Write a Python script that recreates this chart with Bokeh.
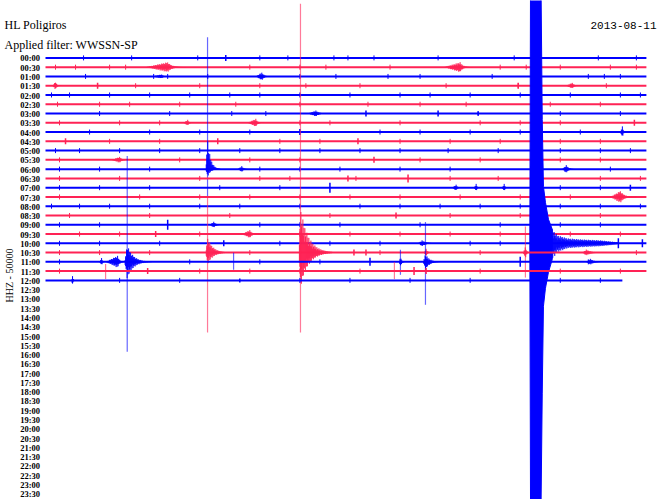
import math
from bokeh.plotting import figure
from bokeh.models import Range1d
from bokeh.core.properties import value
from bokeh.embed import file_html
from bokeh.resources import INLINE

# ---------------- data ----------------
station = "HL Poligiros"
filter_label = "Applied filter: WWSSN-SP"
date_label = "2013-08-11"
channel_label = "HHZ - 50000"

row_labels = ["00:00", "00:30", "01:00", "01:30", "02:00", "02:30", "03:00", "03:30",
              "04:00", "04:30", "05:00", "05:30", "06:00", "06:30", "07:00", "07:30",
              "08:00", "08:30", "09:00", "09:30", "10:00", "10:30", "11:00", "11:30",
              "12:00", "12:30", "13:00", "13:30", "14:00", "14:30", "15:00", "15:30",
              "16:00", "16:30", "17:00", "17:30", "18:00", "18:30", "19:00", "19:30",
              "20:00", "20:30", "21:00", "21:30", "22:00", "22:30", "23:00", "23:30"]

# minutes within each 30-min line
trace_start = [0.0] * 25
trace_end = [30.0] * 24 + [28.8]

# background noise ticks (minutes) per recorded line
noise_ticks = [
    [1.9, 4.3, 7.6, 10.7, 12.1, 14.4, 15.1, 16.4, 19.6, 23.4, 27.6, 29.5],
    [0.5, 1.5, 3.2, 4.0, 10.2, 12.7, 14.0, 17.2, 22.7, 24.0, 25.7, 28.2, 29.5],
    [2.0, 5.4, 6.1, 8.1, 12.7, 14.5, 17.1, 18.7, 22.3, 27.1, 27.9, 28.7],
    [2.6, 4.5, 7.7, 10.7, 13.0, 15.7, 20.0, 23.6, 28.0],
    [0.3, 1.2, 3.2, 5.2, 7.2, 9.2, 10.7, 12.7, 15.2, 17.7, 19.2, 21.2, 23.7, 26.2, 28.7, 29.7],
    [0.6, 2.7, 4.2, 6.7, 9.5, 12.7, 16.1, 18.7, 21.0, 25.2, 27.7],
    [2.7, 6.2, 9.3, 11.0, 21.6, 25.7, 28.7],
    [0.7, 3.7, 5.7, 12.7, 14.2, 17.7, 21.7, 23.7, 25.7],
    [2.2, 5.2, 7.7, 10.2, 16.7, 18.7, 21.2, 23.7, 26.7],
    [3.2, 5.7, 11.7, 13.7, 17.7, 20.2, 22.7, 25.7, 27.7],
    [0.5, 1.7, 3.7, 5.7, 7.7, 9.7, 11.7, 13.7, 15.7, 17.7, 20.1, 22.6, 25.7, 27.7, 29.2],
    [0.7, 6.7, 10.2, 12.7, 18.7, 21.7, 25.7, 27.7],
    [0.7, 2.7, 5.2, 10.7, 12.7, 14.7, 17.7, 20.2, 28.2],
    [0.7, 3.7, 7.7, 10.7, 12.2, 15.5, 20.2, 22.6, 27.7, 29.7],
    [0.7, 2.7, 5.2, 8.7, 11.7, 25.7, 27.7],
    [0.7, 4.7, 7.7, 10.2, 12.7, 15.2, 17.7, 20.7, 23.7, 26.2],
    [0.3, 1.7, 3.2, 5.2, 7.7, 9.7, 12.7, 15.7, 17.7, 19.7, 21.7, 23.7, 25.7, 27.7, 29.7],
    [1.2, 5.2, 9.2, 14.2, 20.2, 23.7, 27.7],
    [0.7, 2.7, 10.7, 12.7, 14.7, 18.7, 22.7, 25.7, 27.7],
    [1.7, 3.7, 7.7, 12.7, 15.2, 17.7, 20.2, 22.7, 26.2, 28.7],
    [0.7, 2.7, 5.7, 11.7, 14.2, 16.7, 21.2, 22.7],
    [0.7, 2.7, 5.2, 10.2, 16.7, 21.7, 29.5],
    [0.7, 7.2, 10.7, 13.7, 27.1],
    [0.7, 7.7, 10.2, 12.7, 15.7, 21.7, 25.7, 28.7],
    [3.7, 6.7, 12.7, 15.2, 18.2, 21.2, 25.7, 27.7],
]

# medium single wiggles: line, minute, amplitude (counts)
wig_row = [0, 3, 3, 6, 6, 6, 7, 8, 9, 9, 9, 11, 13, 13, 14, 14, 17, 18, 19, 20, 20, 20,
           21, 21, 22, 22, 23, 23, 23, 24]
wig_t = [9.0, 2.6, 23.6, 16.0, 19.6, 21.6, 29.4, 12.7, 1.0, 8.6, 15.6, 16.4, 15.1, 18.1,
         14.2, 29.2, 17.5, 6.1, 5.5, 8.9, 28.6, 29.8, 15.4, 16.0, 16.2, 23.7, 5.1, 18.4,
         19.0, 9.7]
wig_amp = [3, 3, 3, 3, 3, 2, 3, 3, 3, 3, 3, 3, 3, 4, 5, 3, 3, 5, 3, 3, 5, 4, 3, 3, 4, 5,
           3, 4, 3, 2]

# wave trains: line, onset, peak, end (minutes), peak amplitude up / down (counts)
burst_row = [1, 1, 2, 2, 3, 3, 6, 7, 7, 8, 11, 12, 12, 12, 14, 14, 14, 15, 18, 19, 20,
             21, 21, 21, 21, 21, 22, 22, 22, 22, 22, 22, 24]
burst_t0 = [5.0, 19.9, 10.5, 5.3, 0.35, 26.0, 13.1, 6.9, 10.1, 28.7, 3.3, 8.0, 9.6, 25.8,
            20.3, 21.4, 22.8, 28.2, 8.2, 9.8, 18.6, 8.0, 12.65, 18.9, 23.85, 26.8, 2.7,
            3.0, 3.95, 17.65, 18.85, 27.0, 1.3]
burst_tp = [6.1, 20.7, 10.8, 5.8, 0.5, 26.3, 13.5, 7.1, 10.5, 28.8, 3.7, 8.09, 9.8, 26.0,
            20.5, 21.5, 22.9, 28.7, 8.4, 10.2, 18.8, 8.09, 12.73, 19.0, 23.96, 27.0, 2.8,
            3.6, 4.08, 17.72, 18.97, 27.2, 1.35]
burst_t1 = [7.0, 21.3, 11.3, 6.2, 0.8, 26.7, 14.2, 7.4, 10.9, 29.0, 4.2, 8.7, 10.2, 26.5,
            20.8, 21.7, 23.1, 29.5, 8.9, 10.7, 19.7, 9.2, 14.3, 19.3, 24.2, 28.0, 3.0,
            4.0, 5.3, 18.0, 19.8, 28.0, 1.5]
burst_up = [5, 5, 4, 2, 4, 3, 3, 3, 4, 6, 3, 31, 3, 4, 3, 4, 4, 6, 3, 4, 3, 15, 45, 4, 6,
            3, 4, 6, 17, 5, 8, 3, 5]
burst_down = [5, 5, 4, 2, 4, 3, 3, 3, 4, 6, 3, 8, 3, 4, 3, 4, 4, 6, 3, 4, 3, 12, 35, 4, 6,
              3, 4, 6, 17, 5, 8, 3, 5]

# largest single swings (thin peaks): line, minute, up / down (counts)
peak_row = [12, 21, 21, 22, 22, 22, 21, 22, 23, 23]
peak_t = [8.09, 8.09, 12.73, 4.08, 17.72, 18.97, 23.96, 9.39, 3.0, 17.42]
peak_up = [132, 55, 249, 106, 12, 40, 26, 9, 7, 9]
peak_down = [29, 80, 80, 90, 13, 43, 25, 8, 8, 8]

# the large earthquake on the 10:00 line (envelope)
quake_row = 20
quake_t = [24.18, 24.22, 24.72, 24.80, 24.86, 24.96, 25.11, 25.30, 25.56, 26.06, 26.70, 27.70, 28.6]
quake_up = [0, 300, 300, 124, 57, 41, 24, 14, 8, 5, 4, 3, 1]
quake_down = [0, 300, 300, 150, 63, 45, 29, 16, 9, 5, 4, 3, 1]

# ---------------- layout ----------------
W, H = 660, 499
X0_PX, PX_PER_MIN = 45.0, 20.03
Y0_PX, PX_PER_ROW = 57.4, 9.27
COUNTS_PER_ROW = 9.28
TEXTURE = [1.0, 0.55, 0.85, 0.4, 0.95, 0.65, 0.75, 0.5]


def fx(px):
    return (px - X0_PX) / PX_PER_MIN


def fy(py):
    return (py - Y0_PX) / PX_PER_ROW


def a(c):
    return c / COUNTS_PER_ROW


def interp(t, ts, vs):
    for j in range(len(ts) - 1):
        if ts[j] <= t <= ts[j + 1]:
            f = (t - ts[j]) / (ts[j + 1] - ts[j])
            return vs[j] + f * (vs[j + 1] - vs[j])
    return 0.0


BLUE = "#0000FF"
RED = "#FF2255"
colors = [BLUE, RED]

p = figure(width=W, height=H, x_range=Range1d(fx(0), fx(W)), y_range=Range1d(fy(H), fy(0)),
           output_backend="svg", toolbar_location=None, min_border=0,
           x_axis_type=None, y_axis_type=None)
p.grid.visible = False
p.outline_line_color = None
p.background_fill_color = "white"
p.border_fill_color = "white"

SERIF = value("Liberation Serif")
STEP = 1.0 / PX_PER_MIN

for r in range(len(trace_end)):
    c = colors[r % 2]
    p.line([trace_start[r], trace_end[r]], [r, r], line_color=c, line_width=2)

    ts = noise_ticks[r]
    p.segment(x0=ts, y0=[r - a(2.5)] * len(ts), x1=ts, y1=[r + a(2.5)] * len(ts),
              line_color=c, line_width=1)

    wi = [i for i in range(len(wig_row)) if wig_row[i] == r]
    if wi:
        p.segment(x0=[wig_t[i] for i in wi], y0=[r - a(wig_amp[i]) for i in wi],
                  x1=[wig_t[i] for i in wi], y1=[r + a(wig_amp[i]) for i in wi],
                  line_color=c, line_width=1.5)

    sx, sy0, sy1 = [], [], []
    for i in range(len(burst_row)):
        if burst_row[i] != r:
            continue
        t0, tp, t1 = burst_t0[i], burst_tp[i], burst_t1[i]
        n = max(2, int(round((t1 - t0) / STEP * 2)))
        for k in range(n + 1):
            t = t0 + (t1 - t0) * k / n
            if t <= tp:
                e = (t - t0) / max(tp - t0, 1e-6)
            else:
                e = math.exp(-4 * (t - tp) / max(t1 - tp, 1e-6))
            sx.append(t)
            sy0.append(r - a(burst_up[i] * e * TEXTURE[k % 8]))
            sy1.append(r + a(burst_down[i] * e * TEXTURE[(k + 3) % 8]))
    if r == quake_row:
        # saturated part as a solid mass
        solid = [j for j in range(len(quake_t)) if quake_t[j] <= 25.30]
        qt = [quake_t[j] for j in solid]
        qx = qt + qt[::-1]
        qy = [r - a(quake_up[j]) for j in solid] + [r + a(quake_down[j]) for j in solid][::-1]
        p.patch(qx, qy, fill_color=c, line_color=c, line_width=1)
        # coda as oscillating swings
        n = int(round((quake_t[-1] - 25.30) / STEP * 2))
        for k in range(n + 1):
            t = 25.30 + (quake_t[-1] - 25.30) * k / n
            sx.append(t)
            sy0.append(r - a(interp(t, quake_t, quake_up) * TEXTURE[k % 8]))
            sy1.append(r + a(interp(t, quake_t, quake_down) * TEXTURE[(k + 3) % 8]))
    if sx:
        p.segment(x0=sx, y0=sy0, x1=sx, y1=sy1, line_color=c, line_width=1)

    pi_ = [i for i in range(len(peak_row)) if peak_row[i] == r]
    if pi_:
        p.segment(x0=[peak_t[i] for i in pi_], y0=[r - a(peak_up[i]) for i in pi_],
                  x1=[peak_t[i] for i in pi_], y1=[r + a(peak_down[i]) for i in pi_],
                  line_color=c, line_width=1.2, line_alpha=0.6)

# hour labels
rows = list(range(len(row_labels)))
p.text(x=[fx(39.5)] * len(rows), y=[rr + 0.06 for rr in rows], text=row_labels,
       text_font=SERIF, text_font_size="8.5px", text_font_style="bold",
       text_align="right", text_baseline="middle", text_color="black")

p.text(x=[fx(4)], y=[fy(24.5)], text=[station], text_font=SERIF, text_font_size="12px",
       text_align="left", text_baseline="alphabetic", text_color="black")
p.text(x=[fx(4)], y=[fy(44.5)], text=[filter_label], text_font=SERIF, text_font_size="12px",
       text_align="left", text_baseline="alphabetic", text_color="black")
p.text(x=[fx(656)], y=[fy(24.7)], text=[date_label], text_font=value("Liberation Mono"),
       text_font_size="11px", text_align="right", text_baseline="alphabetic",
       text_color="black")
p.text(x=[fx(9)], y=[fy(275)], text=[channel_label], text_font=SERIF, text_font_size="10px",
       text_align="center", text_baseline="alphabetic", angle=math.pi / 2,
       text_color="black")

open("out.html", "w").write(file_html(p, INLINE))
